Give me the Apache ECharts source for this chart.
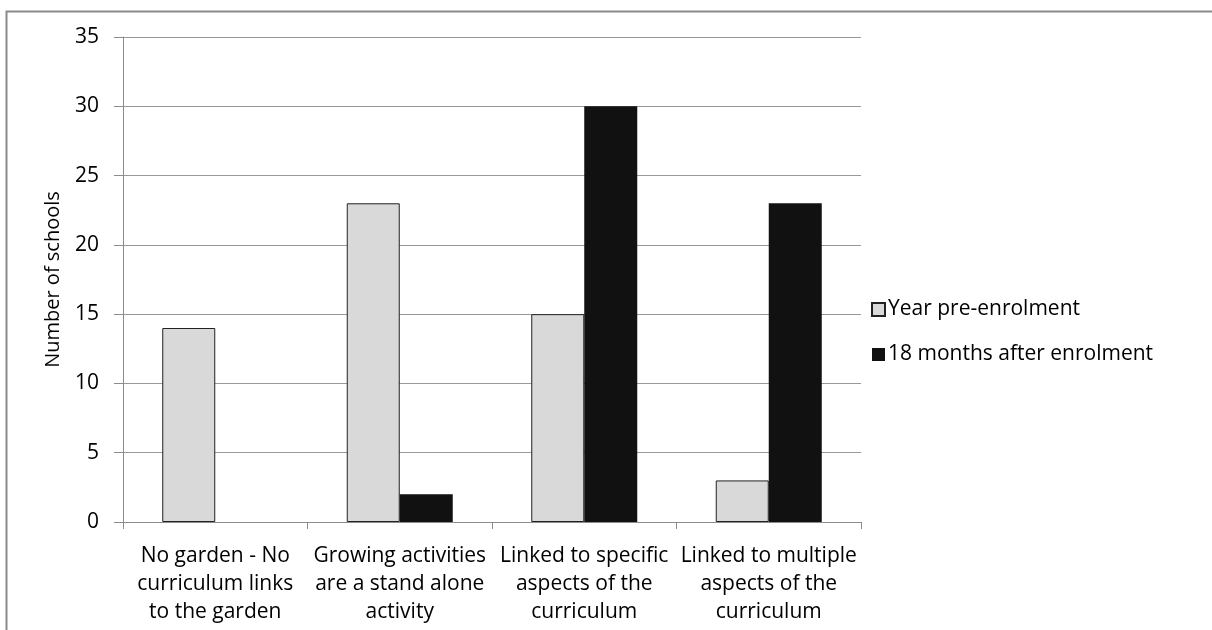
<!DOCTYPE html>
<html>
<head>
<meta charset="utf-8">
<script src="https://cdn.jsdelivr.net/npm/echarts@6/dist/echarts.min.js"></script>
<style>
  html, body { margin: 0; padding: 0; background: #fff; }
  #chart { width: 1212px; height: 630px; }
</style>
</head>
<body>
<div id="chart"></div>
<script>
// categories and values
const categories = [
  "No garden - No\ncurriculum links\nto the garden",
  "Growing activities\nare a stand alone\nactivity",
  "Linked to specific\naspects of the\ncurriculum",
  "Linked to multiple\naspects of the\ncurriculum",
];
const preEnrolment = [14, 23, 15, 3];
const afterEnrolment = [0, 2, 30, 23];
const seriesNames = ["Year pre-enrolment", "18 months after enrolment"];

const font = "Open Sans";
const chart = echarts.init(document.getElementById("chart"));

chart.setOption({
  animation: false,
  textStyle: { fontFamily: font, color: "#000" },
  graphic: [
    {
      // outer chart frame (only left/top edges visible)
      type: "rect",
      shape: { x: 6.5, y: 11.5, width: 1300, height: 700 },
      style: { fill: "none", stroke: "#8a8a8a", lineWidth: 2 },
      silent: true,
    },
  ],
  grid: { left: 123, right: 351, top: 37, bottom: 108 },
  legend: {
    orient: "vertical",
    left: 866,
    top: 294,
    itemWidth: 13,
    itemHeight: 13,
    itemGap: 24,
    icon: "rect",
    textStyle: { fontFamily: font, fontSize: 21, color: "#000", padding: [0, 0, 0, -2] },
    data: seriesNames,
  },
  xAxis: {
    type: "category",
    data: categories,
    axisLine: { lineStyle: { color: "#8c8c8c", width: 1 } },
    axisTick: { show: true, length: 7, lineStyle: { color: "#8c8c8c" } },
    axisLabel: {
      interval: 0,
      fontFamily: font,
      fontSize: 21,
      lineHeight: 28,
      color: "#000",
      margin: 20,
    },
  },
  yAxis: {
    type: "value",
    min: 0,
    max: 35,
    interval: 5,
    name: "Number of schools",
    nameLocation: "middle",
    nameGap: 60,
    nameTextStyle: { fontFamily: font, fontSize: 20, color: "#000" },
    axisLine: { show: true, lineStyle: { color: "#8c8c8c" } },
    axisTick: { show: true, length: 9, lineStyle: { color: "#8c8c8c" } },
    splitLine: { lineStyle: { color: "#999" } },
    axisLabel: { fontFamily: font, fontSize: 21, color: "#000", margin: 24 },
  },
  series: [
    {
      name: seriesNames[0],
      type: "bar",
      data: preEnrolment,
      barWidth: 53,
      barGap: "0%",
      itemStyle: { color: "#d9d9d9", borderColor: "#222", borderWidth: 1 },
    },
    {
      name: seriesNames[1],
      type: "bar",
      data: afterEnrolment,
      barWidth: 53,
      barGap: "0%",
      itemStyle: { color: "#111111", borderWidth: 0 },
    },
  ],
});
</script>
</body>
</html>
